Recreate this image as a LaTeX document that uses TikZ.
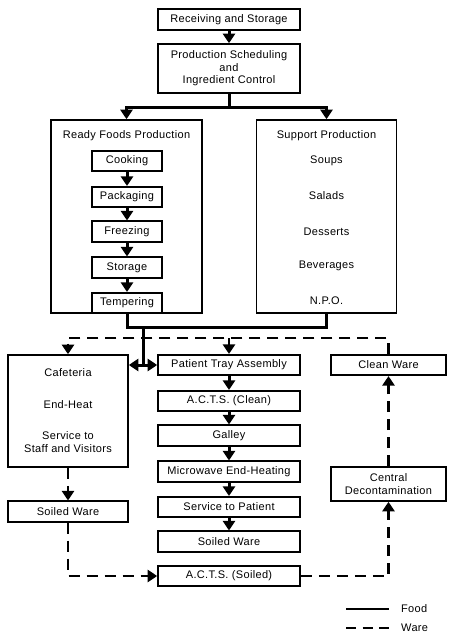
\documentclass[tikz,border=0pt]{standalone}
\usepackage{fontspec}
\setmainfont{Liberation Sans}[LetterSpace=3]
\usetikzlibrary{arrows.meta}

\begin{document}
\begin{tikzpicture}[x=1pt, y=-1pt,
    every node/.style={font=\fontsize{11}{12.5}\selectfont, inner sep=0pt},
    caja/.style={draw, line width=1.6pt, minimum height=20.5pt},
    food/.style={line width=3pt, line cap=rect},
    ware/.style={line width=2.8pt, dash pattern=on 11pt off 7pt},
    punta/.style={-{Triangle[length=9.5pt,width=12pt]}}]
            \useasboundingbox (0,0) rectangle (448,643);
            % Cajas
            \node[caja, minimum width=142pt] (recep) at (229,19.5) {Receiving and Storage};
            \node[caja, minimum width=142pt, minimum height=49pt, align=center] (prog) at (229,68.5) {Production Scheduling\\and\\Ingredient Control};
            \node[caja, minimum width=151pt, minimum height=193pt] (listos) at (126.5,216.5) {};
            \node (listostit) at (126.5,136) {Ready Foods Production};
            \node[caja, minimum width=70pt] (coc) at (127,161) {Cooking};
            \node[caja, minimum width=70pt] (emp) at (127,197) {Packaging};
            \node[caja, minimum width=70pt] (cong) at (127,231.5) {Freezing};
            \node[caja, minimum width=70pt] (alm) at (127,267.5) {Storage};
            \node[caja, minimum width=70pt] (temp) at (127,303) {Tempering};
            \node[caja, minimum width=140pt, minimum height=193pt] (apoyo) at (326.5,216.5) {};
            \node (apoyotit) at (326.5,136) {Support Production};
            \node (sopas) at (326.5,161) {Soups};
            \node (ensal) at (326.5,196) {Salads};
            \node (postres) at (326.5,232) {Desserts};
            \node (bebidas) at (326.5,266) {Beverages};
            \node (npo) at (326.5,301) {N.P.O.};
            \node[caja, minimum width=120pt, minimum height=112pt] (caf) at (68,411) {};
            \node (caftit) at (68,373) {Cafeteria};
            \node (calor) at (68,405) {End-Heat};
            \node[align=center] (servcaf) at (68,442) {Service to\\Staff and Visitors};
            \node[caja, minimum width=120pt] (sucio1) at (68,511.5) {Soiled Ware};
            \node[caja, minimum width=142pt] (bandeja) at (229,365) {Patient Tray Assembly};
            \node[caja, minimum width=142pt] (actsl) at (229,401) {A.C.T.S. (Clean)};
            \node[caja, minimum width=142pt] (galley) at (229,435.5) {Galley};
            \node[caja, minimum width=142pt] (micro) at (229,471.5) {Microwave End-Heating};
            \node[caja, minimum width=142pt] (servpac) at (229,507) {Service to Patient};
            \node[caja, minimum width=142pt] (sucio2) at (229,541.5) {Soiled Ware};
            \node[caja, minimum width=142pt] (actss) at (229,576) {A.C.T.S. (Soiled)};
            \node[caja, minimum width=115pt] (limpio) at (388.5,365) {Clean Ware};
            \node[caja, minimum width=115pt, minimum height=34pt, align=center] (decon) at (388.5,484) {Central\\Decontamination};

            % Puntos de union
            \coordinate (fj) at (229,107);
            \coordinate (fa) at (127,327);
            \coordinate (fc) at (143,327);
            \coordinate (fd) at (143,365);
            \coordinate (wa) at (388.5,338);

            % Flechas (comida)
            \draw[food, punta] (recep) -- (prog);
            \draw[food] (prog.south) -- (fj);
            \draw[food, punta] (fj) -| (listos.north);
            \draw[food, punta] (fj) -| (apoyo.north);
            \draw[food, punta] (coc) -- (emp);
            \draw[food, punta] (emp) -- (cong);
            \draw[food, punta] (cong) -- (alm);
            \draw[food, punta] (alm) -- (temp);
            \draw[food] (temp.south) -- (fa) -| (apoyo.south);
            \draw[food] (fc) -- (fd);
            \draw[food, punta] (fd) -- (caf.east |- fd);
            \draw[food, punta] (fd) -- (bandeja.west);
            \draw[food, punta] (bandeja) -- (actsl);
            \draw[food, punta] (actsl) -- (galley);
            \draw[food, punta] (galley) -- (micro);
            \draw[food, punta] (micro) -- (servpac);
            \draw[food, punta] (servpac) -- (sucio2);

            % Flechas (vajilla)
            \draw[ware, punta] (limpio.north) -- (wa) -| (caf.north);
            \draw[ware, punta] (bandeja.north |- wa) -- (bandeja.north);
            \draw[ware, punta] (caf.south) -- (sucio1.north);
            \draw[ware, punta] (sucio1.south) |- (actss.west);
            \draw[ware, punta] (actss.east) -| (decon.south);
            \draw[ware, punta] (decon.north) -- (limpio.south);

            % Leyenda
            \coordinate (la) at (346,609);
            \coordinate (lb) at (389,609);
            \coordinate (lc) at (346,628);
            \coordinate (ld) at (389,628);
            \draw[line width=2.4pt] (la) -- (lb);
            \draw[line width=2.4pt, dash pattern=on 10pt off 6.5pt] (lc) -- (ld);
            \node[anchor=west] (lfood) at (401,609) {Food};
            \node[anchor=west] (lware) at (401,628) {Ware};
\end{tikzpicture}
\end{document}
